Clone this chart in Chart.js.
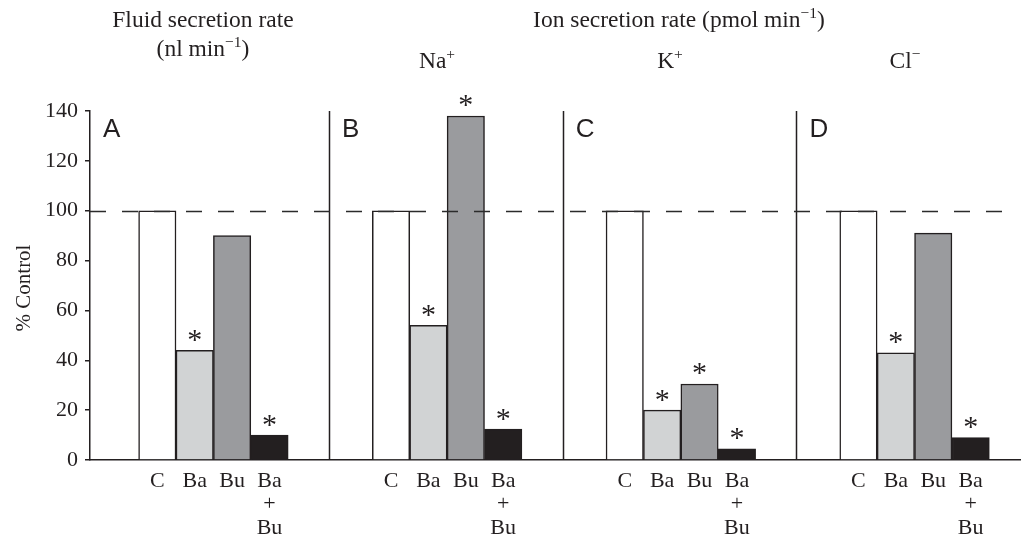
<!DOCTYPE html>
<html>
<head>
<meta charset="utf-8">
<script src="https://cdn.jsdelivr.net/npm/chart.js@4.4.1/dist/chart.umd.min.js"></script>
<style>
  html, body { margin: 0; padding: 0; background: #ffffff; }
  #wrap { width: 1026px; height: 537px; position: relative; }
</style>
</head>
<body>
<div id="wrap"><canvas id="c"></canvas></div>
<script>
// ---- data ----
const panels = ['A', 'B', 'C', 'D'];
const treatments = ['C', 'Ba', 'Bu', 'Ba+Bu'];
const fluidRate = [100, 44, 90, 10];
const sodiumRate = [100, 54, 138, 12.4];
const potassiumRate = [100, 20, 30.5, 4.5];
const chlorideRate = [100, 43, 91, 9];
const fluidSig = [false, true, false, true];
const sodiumSig = [false, true, true, true];
const potassiumSig = [false, true, true, true];
const chlorideSig = [false, true, false, true];
const yTicks = [0, 20, 40, 60, 80, 100, 120, 140];
const controlLevel = 100;
const panelTitles = ['Fluid secretion rate', 'Na', 'K', 'Cl'];

// ---- layout / style ----
const INK = '#231f20';
const SERIF = '"Liberation Serif", "Times New Roman", serif';
const SANS = '"Liberation Sans", Arial, sans-serif';
const fills = ['#ffffff', '#d1d3d4', '#9a9b9e', '#231f20'];
const PANEL_STEP = 6.25, FIRST_BAR = 1.8, SEP_OFFSET = 6.39, X_MAX = 24.87;

const panelValues = [fluidRate, sodiumRate, potassiumRate, chlorideRate];
const panelSig = [fluidSig, sodiumSig, potassiumSig, chlorideSig];

const points = [], colors = [], sigs = [], tickPos = [], tickLab = [];
panelValues.forEach((vals, p) => {
  vals.forEach((v, i) => {
    const x = p * PANEL_STEP + FIRST_BAR + i;
    points.push({ x: x, y: v });
    colors.push(fills[i]);
    sigs.push(panelSig[p][i]);
    tickPos.push(x);
    tickLab.push(treatments[i].includes('+') ? treatments[i].split('+').reduce((a, s, k) => k ? a.concat(['+', s]) : [s], []) : treatments[i]);
  });
});

function drawRuns(ctx, runs, cx, baseline, size) {
  // runs: [text, isSuperscript]
  let total = 0;
  const widths = runs.map(([t, sup]) => {
    ctx.font = (sup ? size * 0.66 : size) + 'px ' + SERIF;
    const w = ctx.measureText(t).width;
    total += w;
    return w;
  });
  let x = cx - total / 2;
  runs.forEach(([t, sup], k) => {
    ctx.font = (sup ? size * 0.66 : size) + 'px ' + SERIF;
    ctx.textAlign = 'left';
    ctx.textBaseline = 'alphabetic';
    ctx.fillText(t, x, sup ? baseline - size * 0.38 : baseline);
    x += widths[k];
  });
}

const decor = {
  id: 'decor',
  beforeDatasetsDraw(chart) {
    const { ctx, scales: { x, y } } = chart;
    ctx.save();
    ctx.strokeStyle = INK;
    ctx.lineWidth = 1.5;
    for (let k = 0; k < 3; k++) {
      const px = Math.round(x.getPixelForValue(SEP_OFFSET + k * PANEL_STEP)) + 0.5;
      ctx.beginPath();
      ctx.moveTo(px, y.getPixelForValue(140));
      ctx.lineTo(px, y.getPixelForValue(0));
      ctx.stroke();
    }
    ctx.restore();
  },
  afterDatasetsDraw(chart) {
    const { ctx, scales: { x, y } } = chart;
    ctx.save();
    // dashed control line
    ctx.strokeStyle = '#2b2b2b';
    ctx.lineWidth = 1.6;
    ctx.setLineDash([16, 16]);
    ctx.beginPath();
    const yl = Math.round(y.getPixelForValue(controlLevel)) + 0.5;
    ctx.moveTo(x.getPixelForValue(0), yl);
    ctx.lineTo(x.getPixelForValue(X_MAX) - 3, yl);
    ctx.stroke();
    ctx.setLineDash([]);

    // significance stars
    ctx.fillStyle = INK;
    ctx.font = '30px ' + SERIF;
    ctx.textAlign = 'center';
    ctx.textBaseline = 'alphabetic';
    const m = ctx.measureText('*');
    const mid = (m.actualBoundingBoxAscent - m.actualBoundingBoxDescent) / 2;
    points.forEach((pt, i) => {
      if (!sigs[i]) return;
      const cy = y.getPixelForValue(pt.y) - 15;
      ctx.fillText('*', x.getPixelForValue(pt.x), cy + mid);
    });

    // panel letters
    ctx.font = '26px ' + SANS;
    ctx.textAlign = 'left';
    panels.forEach((L, p) => {
      const sx = p === 0 ? x.getPixelForValue(0) : x.getPixelForValue(SEP_OFFSET + (p - 1) * PANEL_STEP);
      ctx.fillText(L, sx + 13, 137);
    });

    // headings
    const HS = 23.5;
    drawRuns(ctx, [[panelTitles[0], false]], 203, 27, HS);
    drawRuns(ctx, [['(nl min', false], ['\u22121', true], [')', false]], 203, 56, HS);
    drawRuns(ctx, [['Ion secretion rate (pmol min', false], ['\u22121', true], [')', false]], 679, 27, HS);
    drawRuns(ctx, [[panelTitles[1], false], ['+', true]], 437, 68, HS);
    drawRuns(ctx, [[panelTitles[2], false], ['+', true]], 670, 68, HS);
    drawRuns(ctx, [[panelTitles[3], false], ['\u2212', true]], 905, 68, HS);

    // y title
    ctx.translate(24, 288);
    ctx.rotate(-Math.PI / 2);
    ctx.font = '21px ' + SERIF;
    ctx.textAlign = 'center';
    ctx.textBaseline = 'middle';
    ctx.fillText('% Control', 0, 0);
    ctx.restore();
  }
};

new Chart(document.getElementById('c'), {
  type: 'bar',
  data: {
    datasets: [{
      data: points,
      backgroundColor: colors,
      borderColor: INK,
      borderWidth: 1.5,
      categoryPercentage: 1,
      barPercentage: 1
    }]
  },
  options: {
    responsive: true,
    maintainAspectRatio: false,
    animation: false,
    devicePixelRatio: 1,
    layout: { padding: { top: 111, right: 6, left: 0, bottom: 0 } },
    plugins: { legend: { display: false }, tooltip: { enabled: false } },
    scales: {
      x: {
        type: 'linear',
        min: 0,
        max: X_MAX,
        offset: false,
        grid: { display: false, drawTicks: false, offset: false },
        border: { display: true, color: INK, width: 1.5 },
        afterBuildTicks: s => { s.ticks = tickPos.map(v => ({ value: v })); },
        afterFit: s => { s.height = 77; },
        ticks: {
          autoSkip: false,
          maxRotation: 0,
          minRotation: 0,
          padding: 9,
          color: INK,
          font: { family: SERIF, size: 22, lineHeight: 1.08 },
          callback: (v, i) => tickLab[i]
        }
      },
      y: {
        min: 0,
        max: 140,
        afterBuildTicks: s => { s.ticks = yTicks.map(v => ({ value: v })); },
        afterFit: s => { s.width = 90; },
        grid: { drawOnChartArea: false, drawTicks: true, tickLength: 5, color: INK, lineWidth: 1.5 },
        border: { display: true, color: INK, width: 1.5 },
        ticks: {
          padding: 7,
          color: INK,
          font: { family: SERIF, size: 22 }
        }
      }
    }
  },
  plugins: [decor]
});
</script>
</body>
</html>
